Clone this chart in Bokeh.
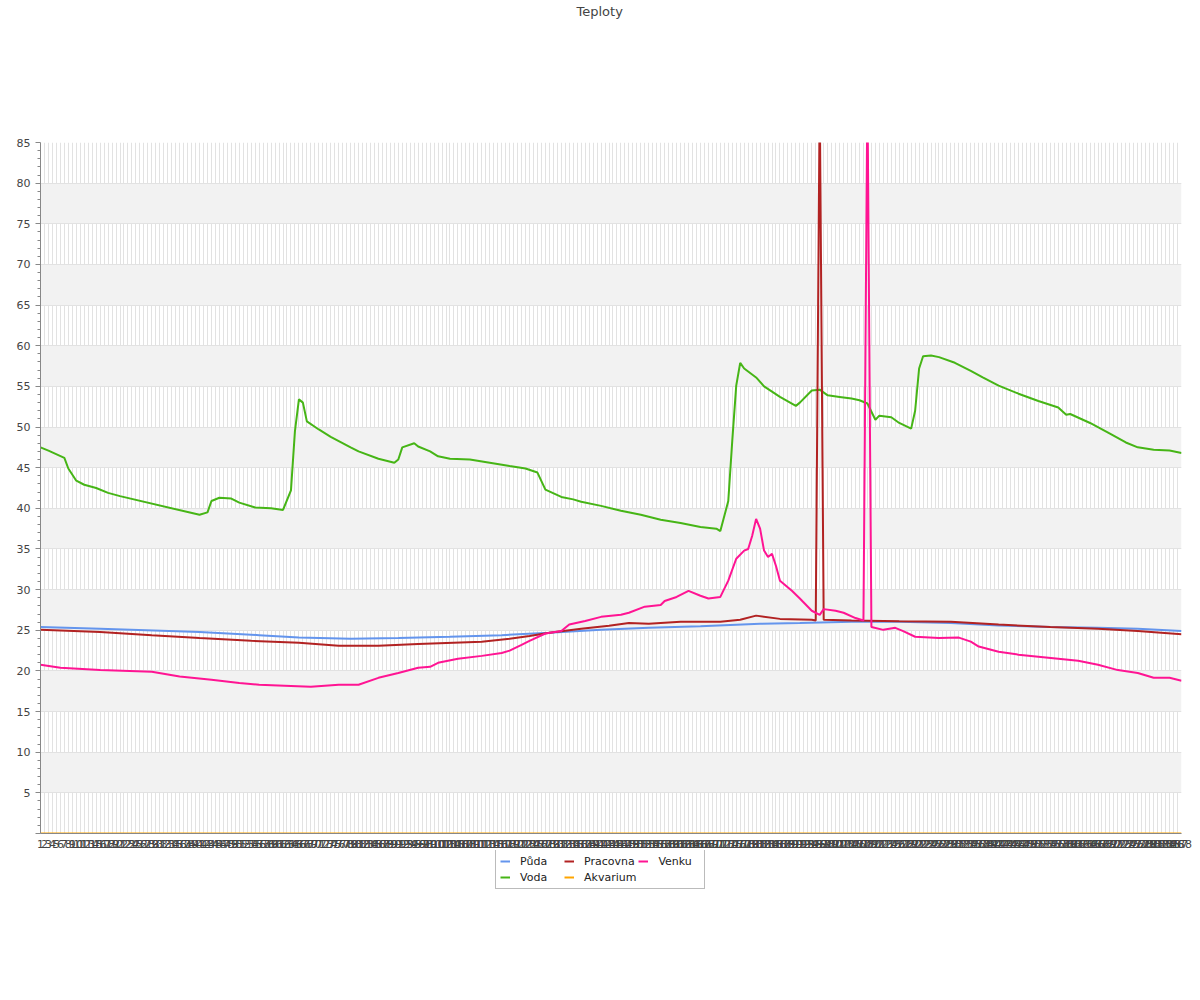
from bokeh.plotting import figure
from bokeh.layouts import column
from bokeh.models import Range1d, FixedTicker, Legend, LegendItem, Title
from bokeh.embed import file_html
from bokeh.resources import INLINE

# ---- data (index of the 5-minute sample, value in °C) ----
x_ticks = list(range(1, 289))
x_labels = {i: str(i) for i in x_ticks}

puda_x = [1, 16, 41, 56, 66, 79, 91, 104, 117, 129, 142, 154, 167, 182, 192, 205, 217, 230, 242, 255, 267, 277, 288]
puda_y = [25.4, 25.2, 24.8, 24.4, 24.1, 23.95, 24.05, 24.2, 24.4, 24.7, 25.05, 25.3, 25.5, 25.8, 25.9, 26.05, 26.05, 25.9, 25.6, 25.4, 25.3, 25.2, 24.9]

voda_x = [1, 3, 7, 8, 10, 12, 15, 18, 21, 41, 43, 44, 46, 49, 51, 55, 59, 62, 64, 65, 66, 67, 68, 71, 74, 79, 81,
          86, 90, 91, 92, 95, 96, 99, 101, 104, 109, 114, 119, 123, 126, 128, 132, 135, 137, 142, 147, 152, 157, 162,
          167, 171, 172, 174, 175, 176, 177, 178, 181, 183, 187, 191, 192, 195, 197, 199, 202, 205, 207, 209, 211, 212,
          215, 217, 220, 221, 222, 223, 225, 227, 231, 235, 238, 242, 247, 252, 257, 259, 260, 265, 270, 274, 277, 281,
          285, 288]
voda_y = [47.5, 47.1, 46.2, 44.9, 43.4, 42.9, 42.5, 41.9, 41.5, 39.2, 39.5, 40.9, 41.3, 41.2, 40.7, 40.1, 40.0, 39.8,
          42.2, 49.5, 53.4, 53.0, 50.7, 49.7, 48.8, 47.5, 47.0, 46.1, 45.6, 46.0, 47.5, 48.0, 47.6, 47.0, 46.4, 46.1,
          46.0, 45.6, 45.2, 44.9, 44.4, 42.3, 41.4, 41.1, 40.8, 40.3, 39.7, 39.2, 38.6, 38.2, 37.7, 37.5, 37.2, 40.9,
          48.3, 55.1, 57.9, 57.2, 56.1, 55.0, 53.7, 52.6, 53.0, 54.5, 54.6, 53.9, 53.7, 53.5, 53.3, 52.9, 50.9, 51.4,
          51.2, 50.5, 49.8, 52.0, 57.2, 58.7, 58.8, 58.6, 57.9, 56.9, 56.1, 55.1, 54.1, 53.2, 52.4, 51.5, 51.6, 50.5,
          49.2, 48.1, 47.5, 47.2, 47.1, 46.8]

pracovna_x = [1, 16, 29, 41, 54, 66, 76, 86, 96, 112, 119, 124, 129, 137, 144, 149, 154, 162, 172, 177, 181, 187,
              195, 196, 197, 198, 205, 217, 230, 242, 255, 267, 277, 288]
pracovna_y = [25.05, 24.8, 24.4, 24.05, 23.7, 23.45, 23.1, 23.1, 23.3, 23.6, 23.95, 24.3, 24.7, 25.2, 25.55, 25.9,
              25.8, 26.05, 26.05, 26.3, 26.8, 26.4, 26.3, 26.2, 91.0, 26.3, 26.2, 26.1, 26.05, 25.7, 25.4, 25.2, 24.9,
              24.5]

akvarium_x = [1, 288]
akvarium_y = [0.0, 0.0]

venku_x = [1, 6, 16, 29, 36, 44, 51, 56, 64, 69, 76, 81, 86, 91, 96, 99, 101, 106, 112, 117, 119, 122, 124, 128, 132,
           134, 138, 142, 147, 149, 153, 157, 158, 161, 164, 167, 169, 172, 174, 176, 178, 179, 180, 181, 182, 183,
           184, 185, 186, 187, 190, 192, 195, 197, 198, 201, 203, 206, 208, 209, 210, 213, 216, 218, 221, 227, 232,
           235, 237, 242, 247, 252, 257, 262, 267, 272, 277, 281, 285, 288]
venku_y = [20.75, 20.4, 20.1, 19.9, 19.3, 18.9, 18.5, 18.3, 18.15, 18.05, 18.3, 18.3, 19.15, 19.75, 20.4, 20.5, 21.0,
           21.5, 21.85, 22.2, 22.5, 23.2, 23.7, 24.6, 24.9, 25.7, 26.15, 26.65, 26.9, 27.15, 27.9, 28.1, 28.6, 29.1,
           29.85, 29.25, 28.9, 29.1, 31.1, 33.8, 34.8, 35.0, 36.6, 38.7, 37.5, 34.8, 34.0, 34.4, 32.9, 31.1, 29.85,
           28.9, 27.4, 26.9, 27.6, 27.4, 27.15, 26.5, 26.2, 92.0, 25.4, 25.05, 25.3, 24.9, 24.2, 24.05, 24.1, 23.6,
           23.0, 22.35, 22.0, 21.75, 21.5, 21.25, 20.75, 20.1, 19.75, 19.15, 19.15, 18.8]

y_major = [0, 5, 10, 15, 20, 25, 30, 35, 40, 45, 50, 55, 60, 65, 70, 75, 80, 85]
y_minor = [v for v in range(0, 86) if v % 5 != 0]

series = [
    ("Půda", puda_x, puda_y, "#6495ed"),
    ("Voda", voda_x, voda_y, "#46b516"),
    ("Pracovna", pracovna_x, pracovna_y, "#b22222"),
    ("Akvarium", akvarium_x, akvarium_y, "#ffa500"),
    ("Venku", venku_x, venku_y, "#ff1493"),
]
legend_order = ["Půda", "Pracovna", "Venku", "Voda", "Akvarium"]

FONT = "DejaVu Sans"
TXT = "#444444"

p = figure(frame_width=1141, frame_height=691, output_backend="svg", toolbar_location=None,
           x_range=Range1d(1, 288), y_range=Range1d(0, 85),
           min_border_left=40, min_border_right=11, min_border_top=0, min_border_bottom=0)
p.outline_line_color = None
p.background_fill_color = "white"
p.border_fill_color = "white"

# spacer between frame and title (closest to the frame), then the title itself
spacer = Title(text=" ", text_font=FONT, text_font_size="13px", standoff=105)
p.add_layout(spacer, "above")
title = Title(text="Teploty", align="left", offset=536, standoff=3,
              text_font=FONT, text_font_size="13px", text_font_style="normal", text_color=TXT)
p.add_layout(title, "above")

# axes
p.xaxis.ticker = FixedTicker(ticks=x_ticks)
p.xaxis.major_label_overrides = x_labels
p.xaxis.major_tick_out = 0
p.xaxis.major_tick_in = 0
p.xaxis.minor_tick_out = 0
p.xaxis.minor_tick_in = 0
p.xaxis.major_label_standoff = 6
p.xaxis.axis_line_color = "#888888"

p.yaxis.ticker = FixedTicker(ticks=y_major, minor_ticks=y_minor)
p.yaxis.major_label_overrides = {0: ""}
p.yaxis.major_tick_out = 5
p.yaxis.major_tick_in = 0
p.yaxis.minor_tick_out = 3
p.yaxis.minor_tick_in = 0
p.yaxis.major_label_standoff = 5
p.yaxis.axis_line_color = "#888888"
p.yaxis.major_tick_line_color = "#888888"
p.yaxis.minor_tick_line_color = "#888888"

for ax in (p.xaxis, p.yaxis):
    ax.major_label_text_font = FONT
    ax.major_label_text_font_size = "11px"
    ax.major_label_text_color = TXT

p.xgrid.grid_line_color = "#e2e2e2"
p.ygrid.grid_line_color = "#e2e2e2"
p.ygrid.band_fill_color = "#f2f2f2"
p.ygrid.band_fill_alpha = 1.0

for name, xs, ys, col in series:
    p.line(xs, ys, line_color=col, line_width=2)

# ---- legend strip below the chart (same series, plotted out of view, used only as legend entries) ----
q = figure(width=1192, height=140, output_backend="svg", toolbar_location=None,
           x_axis_type=None, y_axis_type=None, min_border=0,
           x_range=Range1d(1, 288), y_range=Range1d(-200, -100))
q.outline_line_color = None
q.grid.visible = False
q.background_fill_color = "white"
q.border_fill_color = "white"

proxies = {}
for name, xs, ys, col in series:
    proxies[name] = q.line(xs, ys, line_color=col, line_width=2)
items = [LegendItem(label=name, renderers=[proxies[name]]) for name in legend_order]

legend = Legend(items=items, orientation="horizontal", ncols=3, location=(455, 101),
                label_text_font=FONT, label_text_font_size="11px", label_text_color="#222222",
                glyph_width=10, glyph_height=14, label_height=14, label_width=42, label_standoff=10,
                spacing=2, padding=4, margin=0,
                border_line_color="#777777", border_line_width=1,
                background_fill_color="white")
q.add_layout(legend, "center")

layout = column(p, q, spacing=0)
open("out.html", "w").write(file_html(layout, INLINE))
